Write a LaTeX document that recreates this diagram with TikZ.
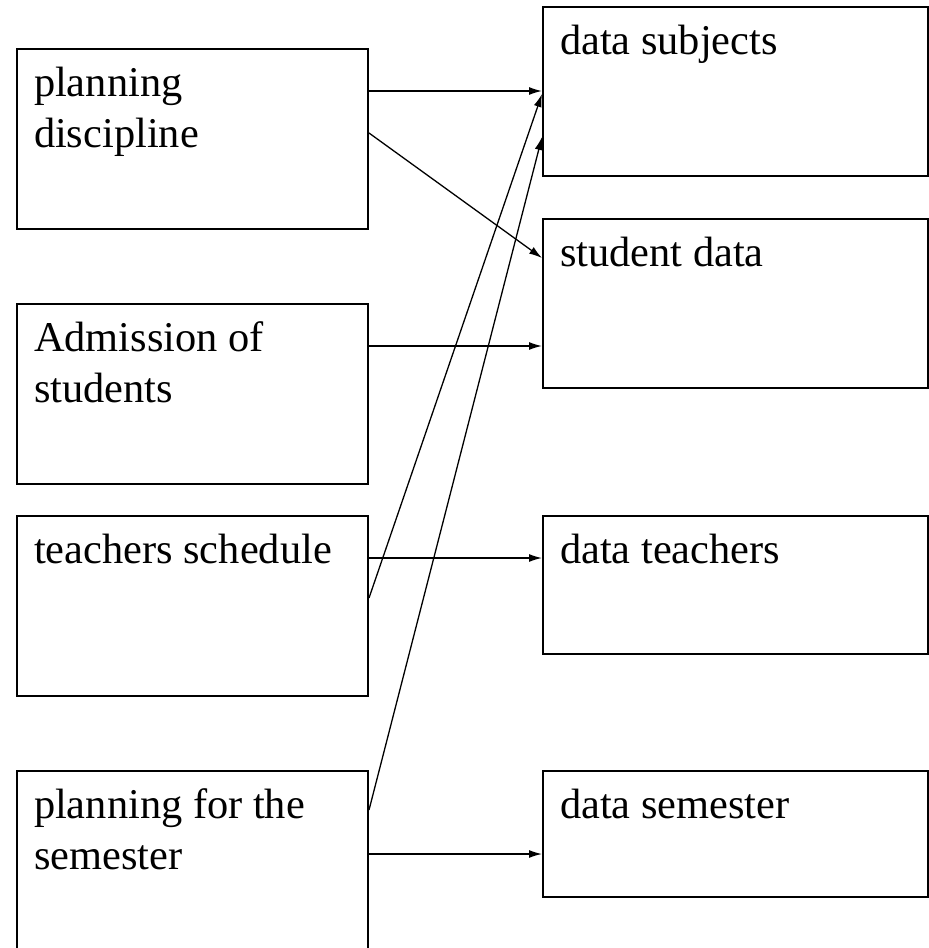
\documentclass[tikz,border=0pt]{standalone}
\usepackage{fontspec}
\setmainfont{Liberation Serif}
\usetikzlibrary{arrows.meta}

\tikzset{
  box/.style={draw,rectangle,line width=1pt,anchor=north west,inner xsep=8.5pt,inner ysep=0pt,
    align=flush left,text height=23.5pt,font=\fontsize{21.2}{25.5}\selectfont},
  lbox/.style={box,text width=158.5pt,text depth=66.5pt},
  rbox/.style={box,text width=175.5pt},
  conn/.style={line width=.65pt,-{Latex[length=6.5pt,width=4pt]}}
}

\begin{document}
\begin{tikzpicture}
  [x=.5pt,y=-.5pt]
  \useasboundingbox (0,0) rectangle (928,948);

  \node[lbox] (pd) at (16,48)  {planning\\discipline};
  \node[lbox] (as) at (16,303) {Admission of\\students};
  \node[lbox] (ts) at (16,515) {teachers schedule};
  \node[lbox] (ps) at (16,770) {planning for the\\semester};

  \node[rbox,text depth=61pt]   (ds)   at (542,6)   {data subjects};
  \node[rbox,text depth=61pt]   (sd)   at (542,218) {student data};
  \node[rbox,text depth=45.5pt] (dt)   at (542,515) {data teachers};
  \node[rbox,text depth=39.5pt] (dsem) at (542,770) {data semester};

  \foreach \from/\fy/\to/\ty in {pd/21.5/ds/42.5, pd/42.5/sd/20, as/21.5/sd/64,
      ts/21.5/dt/21.5, ts/41.5/ds/44, ps/20/ds/65.5, ps/42/dsem/42}
    \draw[conn] ([yshift=-\fy pt]\from.north east) -- ([yshift=-\ty pt]\to.north west);

\end{tikzpicture}
\end{document}
